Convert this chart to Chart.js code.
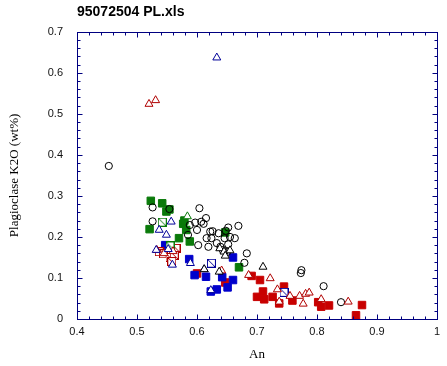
<!DOCTYPE html>
<html>
<head>
<meta charset="utf-8">
<script src="https://cdn.jsdelivr.net/npm/chart.js@4/dist/chart.umd.min.js"></script>
<style>
  html, body { margin: 0; padding: 0; background: #ffffff; }
  #c { display: block; }
</style>
</head>
<body>
<canvas id="c" width="447" height="366"></canvas>
<script>
// ---- Data: [An, K2O wt%] ----
const blackCircles = [
  [0.453,0.373],[0.526,0.272],[0.526,0.238],[0.554,0.268],[0.604,0.270],
  [0.615,0.246],[0.588,0.229],[0.597,0.235],[0.607,0.237],[0.611,0.232],
  [0.600,0.217],[0.585,0.205],[0.602,0.180],[0.619,0.176],[0.616,0.197],
  [0.622,0.213],[0.626,0.214],[0.636,0.209],[0.624,0.197],[0.633,0.185],
  [0.639,0.176],[0.652,0.182],[0.648,0.215],[0.652,0.223],[0.646,0.197],
  [0.655,0.200],[0.643,0.168],[0.650,0.163],[0.663,0.197],[0.669,0.227],
  [0.683,0.160],[0.679,0.137],[0.774,0.119],[0.773,0.112],[0.811,0.080],
  [0.840,0.041]
];
const blackTriangles = [
  [0.638,0.172],[0.645,0.164],[0.647,0.154],[0.655,0.167],[0.710,0.127],
  [0.612,0.121],[0.637,0.115]
];
const greenSquares = [
  [0.523,0.288],[0.542,0.282],[0.549,0.262],[0.554,0.267],[0.521,0.219],
  [0.577,0.232],[0.582,0.217],[0.570,0.197],[0.588,0.189],[0.670,0.126],
  [0.647,0.211],[0.579,0.240]
];
const greenTriangles = [[0.584,0.250]];
const greenCrossed = [[0.542,0.236],[0.555,0.178]];
const blueSquares = [
  [0.547,0.180],[0.587,0.146],[0.596,0.107],[0.615,0.103],[0.660,0.150],
  [0.642,0.102],[0.660,0.095],[0.651,0.077],[0.633,0.072],[0.623,0.067]
];
const blueTriangles = [
  [0.633,0.637],[0.557,0.237],[0.537,0.217],[0.549,0.205],[0.532,0.168],
  [0.552,0.170],[0.559,0.132],[0.589,0.136],[0.612,0.121],[0.623,0.070]
];
const blueCrossed = [[0.624,0.136],[0.745,0.065]];
const redSquares = [
  [0.566,0.172],[0.600,0.111],[0.647,0.089],[0.691,0.105],[0.705,0.095],
  [0.710,0.067],[0.700,0.054],[0.712,0.048],[0.726,0.054],[0.737,0.038],
  [0.745,0.079],[0.759,0.045],[0.802,0.041],[0.807,0.030],[0.820,0.033],
  [0.875,0.034],[0.865,0.009]
];
const redTriangles = [
  [0.520,0.524],[0.531,0.533],[0.533,0.168],[0.545,0.160],[0.641,0.118],
  [0.686,0.107],[0.722,0.099],[0.734,0.072],[0.737,0.042],[0.755,0.056],
  [0.771,0.056],[0.781,0.061],[0.787,0.064],[0.777,0.037],[0.807,0.048],
  [0.852,0.042],[0.560,0.165]
];
const redCrossed = [
  [0.537,0.164],[0.544,0.159],[0.555,0.150],[0.565,0.172],[0.562,0.155],
  [0.558,0.140]
];
const xTicks = [0.4, 0.5, 0.6, 0.7, 0.8, 0.9, 1];
const yTicks = [0, 0.1, 0.2, 0.3, 0.4, 0.5, 0.6, 0.7];

// ---- Styles ----
const NAVY = '#000080';
const BLACK = '#000000';
const GREEN = '#0a7a0a';
const BLUE = '#0000cc';
const BLUE_LINE = '#000099';
const RED = '#c80000';
const RED_LINE = '#b00000';

function crossBox(color) {
  const c = document.createElement('canvas');
  c.width = 9; c.height = 9;
  const g = c.getContext('2d');
  g.fillStyle = '#ffffff';
  g.fillRect(0, 0, 9, 9);
  g.strokeStyle = color;
  g.lineWidth = 1;
  g.strokeRect(0.5, 0.5, 8, 8);
  g.beginPath();
  g.moveTo(1, 1); g.lineTo(8, 8);
  g.stroke();
  return c;
}
const toPts = arr => arr.map(p => ({x: p[0], y: p[1]}));

function ds(label, arr, style) {
  return Object.assign({label, data: toPts(arr), clip: false, borderWidth: 1}, style);
}

// first dataset is drawn on top
const datasets = [
  ds('black triangle', blackTriangles, {pointStyle:'triangle', pointRadius:4.6, borderColor:BLACK, backgroundColor:'#ffffff'}),
  ds('green triangle', greenTriangles, {pointStyle:'triangle', pointRadius:4.6, borderColor:GREEN, backgroundColor:'#ffffff'}),
  ds('blue triangle', blueTriangles, {pointStyle:'triangle', pointRadius:4.6, borderColor:BLUE_LINE, backgroundColor:'#ffffff'}),
  ds('red triangle', redTriangles, {pointStyle:'triangle', pointRadius:4.6, borderColor:RED_LINE, backgroundColor:'#ffffff'}),
  ds('black circle', blackCircles, {pointStyle:'circle', pointRadius:3.6, borderColor:BLACK, backgroundColor:'rgba(0,0,0,0)'}),
  ds('green crossed', greenCrossed, {pointStyle:crossBox(GREEN), pointRadius:4.5}),
  ds('blue crossed', blueCrossed, {pointStyle:crossBox(BLUE_LINE), pointRadius:4.5}),
  ds('red crossed', redCrossed, {pointStyle:crossBox(RED_LINE), pointRadius:4.5}),
  ds('green square', greenSquares, {pointStyle:'rect', pointRadius:5.3, borderColor:GREEN, backgroundColor:GREEN}),
  ds('blue square', blueSquares, {pointStyle:'rect', pointRadius:5.3, borderColor:BLUE, backgroundColor:BLUE}),
  ds('red square', redSquares, {pointStyle:'rect', pointRadius:5.3, borderColor:RED, backgroundColor:RED})
];

// frame + inward ticks on all four sides
const framePlugin = {
  id: 'frame',
  afterDraw(chart) {
    const {ctx, chartArea: a, scales: {x, y}} = chart;
    ctx.save();
    ctx.strokeStyle = NAVY;
    ctx.lineWidth = 1;
    const L = Math.round(a.left) + 0.5, R = Math.round(a.right) + 0.5;
    const T = Math.round(a.top) + 0.5, B = Math.round(a.bottom) + 0.5;
    ctx.strokeRect(L, T, R - L, B - T);
    ctx.beginPath();
    for (let i = 0; i <= 30; i++) {
      const v = 0.4 + i * 0.02;
      const px = Math.round(x.getPixelForValue(v)) + 0.5;
      const len = (i % 5 === 0) ? 5 : 3;
      ctx.moveTo(px, B); ctx.lineTo(px, B - len);
      ctx.moveTo(px, T); ctx.lineTo(px, T + len);
    }
    for (let i = 0; i <= 35; i++) {
      const v = i * 0.02;
      const py = Math.round(y.getPixelForValue(v)) + 0.5;
      const len = (i % 5 === 0) ? 5 : 3;
      ctx.moveTo(L, py); ctx.lineTo(L + len, py);
      ctx.moveTo(R, py); ctx.lineTo(R - len, py);
    }
    ctx.stroke();
    ctx.restore();
  }
};

const tickFont = {family: '"Liberation Sans", Arial, sans-serif', size: 11};
const titleFont = {family: '"Liberation Serif", "Times New Roman", serif', size: 13};
const fmt = v => String(parseFloat(Number(v).toFixed(2)));

new Chart(document.getElementById('c'), {
  type: 'scatter',
  data: {datasets},
  options: {
    responsive: false,
    animation: false,
    devicePixelRatio: 1,
    layout: {padding: {left: 0, right: 10, top: 0, bottom: 0}},
    plugins: {
      legend: {display: false},
      tooltip: {enabled: false},
      title: {
        display: true, text: '95072504 PL.xls', align: 'start', fullSize: false,
        color: '#000000',
        font: {family: '"Liberation Sans", Arial, sans-serif', size: 14, weight: 'bold'},
        padding: {top: 4, bottom: 11}
      }
    },
    scales: {
      x: {
        type: 'linear', min: 0.4, max: 1,
        afterBuildTicks(s) { s.ticks = xTicks.map(v => ({value: v})); },
        ticks: {color: '#111111', font: tickFont, padding: 6, autoSkip: false, maxRotation: 0, callback: fmt},
        grid: {display: false, drawTicks: false},
        border: {display: false},
        title: {display: true, text: 'An', color: '#000000', font: titleFont, padding: {top: 0, bottom: 4}},
        afterFit(s) { s.height = 47; }
      },
      y: {
        type: 'linear', min: 0, max: 0.7,
        afterBuildTicks(s) { s.ticks = yTicks.map(v => ({value: v})); },
        ticks: {color: '#111111', font: tickFont, padding: 14, autoSkip: false, callback: fmt},
        grid: {display: false, drawTicks: false},
        border: {display: false},
        title: {display: true, text: 'Plagioclase K2O (wt%)', color: '#000000', font: titleFont, padding: {top: 7, bottom: 0}},
        afterFit(s) { s.width = 77; }
      }
    }
  },
  plugins: [framePlugin]
});
</script>
</body>
</html>
